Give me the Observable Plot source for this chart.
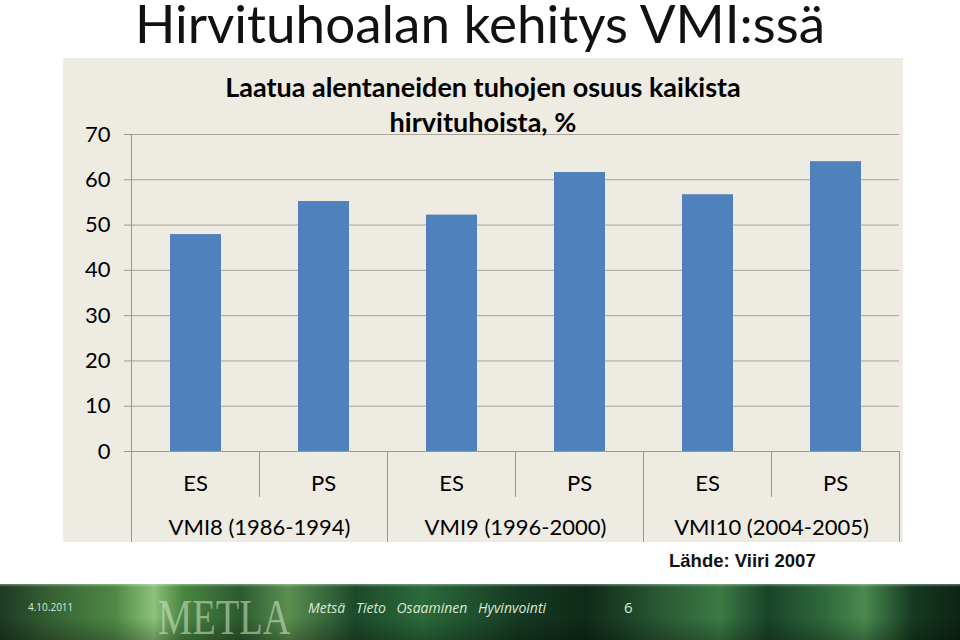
<!DOCTYPE html>
<html><head><meta charset="utf-8">
<script src="https://cdn.jsdelivr.net/npm/d3@7"></script>
<script src="https://cdn.jsdelivr.net/npm/@observablehq/plot@0.6"></script>
<style>
body{margin:0;background:#fff;}
#page{position:relative;width:960px;height:640px;overflow:hidden;background:#fff;font-family:Lato,sans-serif;}
#title{position:absolute;left:0;top:0;width:960px;text-align:center;font-size:53px;line-height:45px;color:#111;}
#chart{position:absolute;left:63px;top:58px;}
#ctitle{position:absolute;left:63px;top:69px;width:840px;text-align:center;font-weight:bold;font-size:27px;line-height:35px;color:#000;}
#source{position:absolute;left:669px;top:550px;font-family:"Liberation Sans",Arial,sans-serif;font-weight:bold;font-size:18.5px;color:#111;}
#footer{position:absolute;left:0;top:584px;width:960px;height:56px;
background:
 linear-gradient(180deg, rgba(255,255,255,0.35) 0px, rgba(255,255,255,0) 3px, rgba(0,0,0,0) 60%, rgba(0,0,0,0.25) 100%),
 linear-gradient(90deg,#1e3a22 0%,#355f33 5%,#4f8a45 12%,#8cc27a 16%,#4a8640 19%,#2c5a30 25%,#5a8f50 30%,#1d4a2a 37%,#2b6a3a 44%,#163a22 54%,#0f2a18 61%,#2a5a34 69%,#3a7a44 75%,#1a4428 80%,#2f6a3c 86%,#4a8a50 90%,#163a22 95%,#0c2414 100%);}
.ft{position:absolute;color:#d8e8d4;}
</style></head>
<body>
<div id="page">
  <div id="title">Hirvituhoalan kehitys VMI:ssä</div>
  <div id="chart"></div>
  <div id="ctitle">Laatua alentaneiden tuhojen osuus kaikista<br>hirvituhoista, %</div>
  <div id="source">Lähde: Viiri 2007</div>
  <div id="footer">
    <div class="ft" style="left:28px;top:16px;font-size:10px;font-family:'Open Sans',sans-serif;">4.10.2011</div>
    <div class="ft" style="left:158px;top:11px;font-size:50px;line-height:44px;font-family:'Liberation Serif',serif;color:rgba(215,232,205,0.55);transform:scaleX(0.77);transform-origin:left top;">METLA</div>
    <div class="ft" style="left:308px;top:14px;font-size:14px;font-style:italic;font-family:'Open Sans',sans-serif;word-spacing:7px;">Metsä Tieto Osaaminen Hyvinvointi</div>
    <div class="ft" style="left:624px;top:13px;font-size:15px;font-family:'Open Sans',sans-serif;">6</div>
  </div>
</div>
<script>
// Data
const subCategories = ["ES", "PS", "ES", "PS", "ES", "PS"];
const periods = ["VMI8 (1986-1994)", "VMI8 (1986-1994)", "VMI9 (1996-2000)", "VMI9 (1996-2000)", "VMI10 (2004-2005)", "VMI10 (2004-2005)"];
const values = [47.9, 55.2, 52.2, 61.6, 56.7, 64.0];
const yTicks = [0, 10, 20, 30, 40, 50, 60, 70];
const groupLabels = ["VMI8 (1986-1994)", "VMI9 (1996-2000)", "VMI10 (2004-2005)"];

const rows = values.map((v, i) => ({key: String(i), sub: subCategories[i], period: periods[i], value: v}));
const keys = rows.map(d => d.key);

const W = 840, H = 484, ML = 68, MR = 4, MT = 76, MB = 91;
const bw = (W - ML - MR) / keys.length;
const gridColor = "#A8A395";
const axisColor = "#9C9890";

const groupRows = groupLabels.map((g, i) => ({key: keys[i * 2 + 1], label: g}));
const shortSeps = rows.filter((d, i) => i % 2 === 1);
const longSeps = rows.filter((d, i) => i % 2 === 0 && i > 0);

const chart = Plot.plot({
  width: W, height: H,
  marginLeft: ML, marginRight: MR, marginTop: MT, marginBottom: MB,
  style: {background: "#EEEBE2", fontFamily: "Lato, sans-serif", color: "#000", overflow: "visible"},
  x: {type: "band", domain: keys, padding: 0, axis: null},
  y: {domain: [0, 70], axis: null},
  marks: [
    Plot.ruleY(yTicks.filter(d => d > 0), {stroke: gridColor, strokeWidth: 1}),
    Plot.axisY({ticks: yTicks, tickSize: 7, tickPadding: 14, fontSize: 22, label: null, stroke: axisColor, fill: "#000"}),
    Plot.barY(rows, {x: "key", y: "value", fill: "#4F81BD", insetLeft: 39, insetRight: 38}),
    Plot.ruleY([0], {stroke: axisColor}),
    Plot.ruleX([rows[0]], {x: "key", dx: -bw / 2, y1: 70, y2: -20.1, stroke: axisColor}),
    Plot.ruleX([rows[rows.length - 1]], {x: "key", dx: bw / 2, y1: 0, y2: -20.1, stroke: axisColor}),
    Plot.ruleX(shortSeps, {x: "key", dx: -bw / 2, y1: 0, y2: -10.15, stroke: axisColor}),
    Plot.ruleX(longSeps, {x: "key", dx: -bw / 2, y1: 0, y2: -20.1, stroke: axisColor}),
    Plot.text(rows, {x: "key", y: 0, dy: 32, text: "sub", fontSize: 22, fill: "#000"}),
    Plot.text(groupRows, {x: "key", dx: -bw / 2, y: 0, dy: 76, text: "label", fontSize: 22, fill: "#000"})
  ]
});
document.getElementById("chart").appendChild(chart);
</script>
</body></html>
